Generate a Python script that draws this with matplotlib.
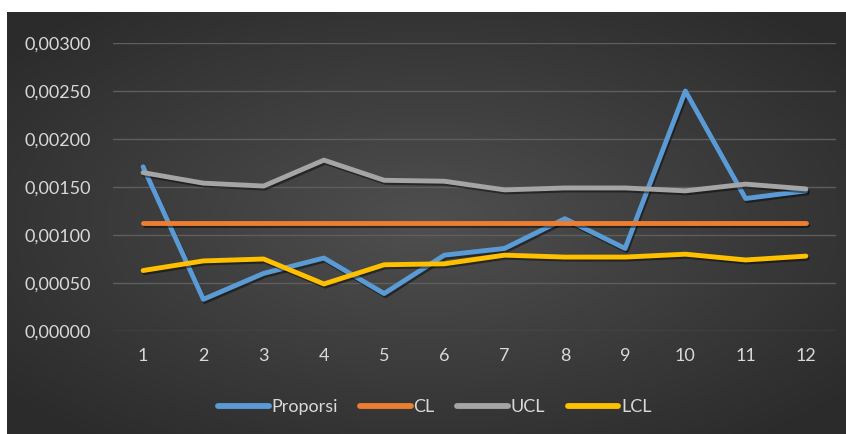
import numpy as np
import matplotlib
matplotlib.use('Agg')
import matplotlib.pyplot as plt
import matplotlib.patheffects as pe

# data (p-chart)
samples = [1, 2, 3, 4, 5, 6, 7, 8, 9, 10, 11, 12]
proporsi = [0.00171, 0.00033, 0.00060, 0.00076, 0.00039, 0.00079,
            0.00086, 0.00117, 0.00086, 0.00250, 0.00138, 0.00146]
cl = [0.001125] * 12
ucl = [0.00165, 0.00154, 0.00151, 0.00178, 0.00157, 0.00156,
       0.00147, 0.00149, 0.00149, 0.00146, 0.00153, 0.00148]
lcl = [0.00063, 0.00073, 0.00075, 0.00049, 0.00069, 0.00070,
       0.00079, 0.00077, 0.00077, 0.00080, 0.00074, 0.00078]
y_ticks = [0.0, 0.0005, 0.0010, 0.0015, 0.0020, 0.0025, 0.0030]

series = [
    ('Proporsi', proporsi, '#5B9BD5'),
    ('CL', cl, '#ED7D31'),
    ('UCL', ucl, '#A5A5A5'),
    ('LCL', lcl, '#FFC000'),
]

plt.rcParams['font.family'] = ['Lato', 'DejaVu Sans']
W, H = 846, 434
fig = plt.figure(figsize=(W / 100, H / 100), dpi=100)
fig.patch.set_facecolor('white')

# radial gradient background like the Excel chart area
bg = fig.add_axes([7 / W, 0, (845 - 7) / W, (H - 12) / H])
bg.set_axis_off()
gx, gy = np.meshgrid(np.linspace(-1, 1, 400), np.linspace(-1, 1, 220))
r = np.clip(np.sqrt(gx ** 2 + gy ** 2) / 1.3, 0, 1)
shade = 0.31 - 0.14 * r
bg.imshow(np.dstack([shade, shade, shade]), aspect='auto', extent=[0, 1, 0, 1])

ax = fig.add_axes([113 / W, (H - 331) / H, (836 - 113) / W, (331 - 43) / H])
ax.set_facecolor('none')

shadow = [pe.SimpleLineShadow(offset=(1, -1.5), shadow_color='black', alpha=0.45),
          pe.Normal()]
for name, vals, color in series:
    ax.plot(samples, vals, color=color, lw=3.5, label=name,
            solid_capstyle='round', solid_joinstyle='round',
            path_effects=shadow, zorder=3)

ax.set_xlim(0.5, 12.5)
ax.set_ylim(0, 0.003)
ax.set_xticks(samples)
ax.set_yticks(y_ticks)
ax.set_yticklabels([f'{v:.5f}'.replace('.', ',') for v in y_ticks])
ax.yaxis.grid(True, color='#5e5e5e', lw=1.0)
ax.set_axisbelow(True)
for s in ax.spines.values():
    s.set_visible(False)
ax.tick_params(axis='both', length=0, colors='#d9d9d9', labelsize=13)
ax.tick_params(axis='y', pad=16)
ax.tick_params(axis='x', pad=12)

leg = ax.legend(loc='center', bbox_to_anchor=(0.445, -0.265), ncol=4, frameon=False,
                handlelength=2.8, handletextpad=0.15, columnspacing=1.25,
                fontsize=13)
for t in leg.get_texts():
    t.set_color('#d9d9d9')
for h in leg.get_lines():
    h.set_path_effects([])
    h.set_linewidth(4.2)
    h.set_solid_capstyle('round')

fig.savefig('out.png', dpi=100)
